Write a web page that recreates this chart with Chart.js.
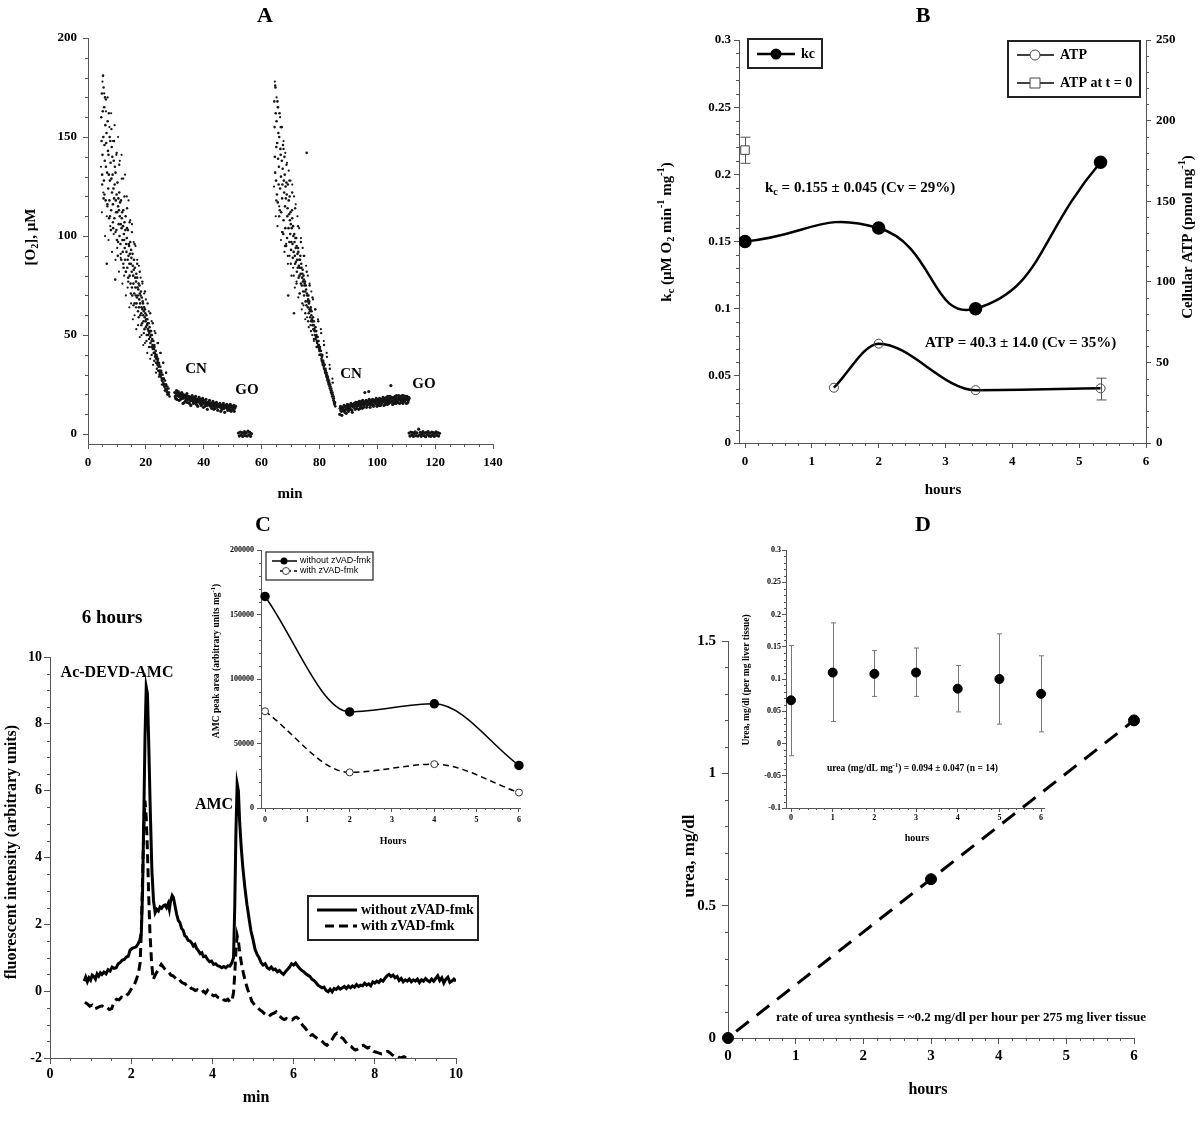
<!DOCTYPE html>
<html>
<head>
<meta charset="utf-8">
<script src="https://cdn.jsdelivr.net/npm/chart.js@4.4.1/dist/chart.umd.min.js"></script>
<style>
  body { margin: 0; background: #fff; }
  #page { position: relative; width: 1200px; height: 1123px; overflow: hidden; }
  canvas { position: absolute; }
</style>
</head>
<body>
<div id="page">
  <canvas id="cA"></canvas>
  <canvas id="cB"></canvas>
  <canvas id="cC"></canvas>
  <canvas id="cD"></canvas>
  <canvas id="cCin"></canvas>
  <canvas id="cDin"></canvas>
</div>
<script>
const SERIF = '"Liberation Serif", "Times New Roman", serif';
const SANS = '"Liberation Sans", Arial, sans-serif';
const AXIS = '#555';

// ---------- A: oxygen trace, [min, µM O2] ----------
const declineA1 = [[4.6,160],[4.8,172],[5.0,141],[5.2,181],[5.3,150],[5.5,128],[5.6,165],[5.8,138],[6.0,156],[6.1,118],[6.3,147],[6.5,86],[6.6,132],[6.8,158],[7.0,124],[7.1,141],[7.3,109],[7.5,150],[7.6,128],[7.8,137],[8.0,113],[8.2,145],[8.3,122],[8.5,131],[8.7,104],[8.9,138],[9.0,119],[9.2,126],[9.4,78],[9.5,132],[9.7,112],[9.9,121],[10.0,98],[10.2,127],[10.4,115],[10.6,106],[10.8,122],[11.0,110],[11.2,96],[11.4,118],[11.6,104],[11.8,112],[12.0,92],[12.2,113],[12.4,101],[12.6,107],[12.8,88],[13.0,110],[13.2,96],[13.4,99],[13.6,84],[13.8,103],[14.0,90],[14.2,95],[14.4,80],[14.6,97],[14.8,86],[15.0,89],[15.2,74],[15.4,91],[15.6,80],[15.8,83],[16.0,71],[16.2,84],[16.4,74],[16.6,77],[16.8,66],[17.0,79],[17.2,70],[17.4,73],[17.6,64],[17.8,75],[18.0,66],[18.2,70],[18.4,61],[18.6,69],[18.8,63],[19.0,66],[19.2,57],[19.4,64],[19.6,59],[19.8,61],[20.0,54],[20.2,60],[20.4,55],[20.6,56],[20.8,50],[21.0,56],[21.2,51],[21.4,52],[21.6,46],[21.8,52],[22.0,47],[22.2,48],[22.4,43],[22.6,47],[22.8,43],[23.0,44],[23.2,39],[23.4,42],[23.6,38],[23.8,39],[24.0,35],[24.2,38],[24.4,34],[24.6,35],[24.8,31],[25.0,34],[25.2,30],[25.4,31],[25.6,27],[25.8,30],[26.0,26],[26.2,28],[26.4,24],[26.6,27],[26.8,23],[27.0,25],[27.2,22],[27.4,24],[27.6,20],[27.8,23],[28.0,21],[28.2,19]];
const declineA1b = [[4.7,148],[4.9,131],[5.1,163],[5.4,119],[5.7,146],[5.9,170],[6.2,135],[6.4,152],[6.7,116],[6.9,143],[7.2,131],[7.4,118],[7.7,148],[7.9,103],[8.1,129],[8.4,140],[8.6,116],[8.8,124],[9.1,109],[9.3,135],[9.6,118],[9.8,103],[10.1,112],[10.3,90],[10.5,119],[10.7,113],[10.9,100],[11.1,117],[11.3,106],[11.5,88],[11.7,109],[11.9,98],[12.1,105],[12.3,84],[12.5,98],[12.7,94],[12.9,103],[13.1,82],[13.3,92],[13.5,104],[13.7,88],[13.9,79],[14.1,96],[14.3,86],[14.5,91],[14.7,76],[14.9,93],[15.1,82],[15.3,70],[15.5,85],[15.7,76],[15.9,88],[16.1,66],[16.3,79],[16.5,70],[16.7,81],[16.9,69],[17.1,74],[17.3,62],[17.5,76],[17.7,68],[17.9,71],[18.1,60],[18.3,72],[18.5,64],[18.7,56],[18.9,67],[19.1,60],[19.3,62],[19.5,53],[19.7,63],[19.9,57],[20.1,58],[20.3,50],[20.5,58],[20.7,53],[20.9,52],[21.1,48],[21.3,54],[21.5,49],[21.7,50],[21.9,44],[22.1,50],[22.3,45],[22.5,44],[22.7,41],[22.9,45],[23.1,41],[23.3,40],[23.5,36],[23.7,40],[23.9,36],[24.1,37],[24.3,32],[24.5,36],[24.7,32],[24.9,32],[25.1,29],[25.3,32],[25.5,28],[25.7,28],[25.9,25],[26.1,28],[26.3,25],[26.5,25],[26.7,22],[26.9,25],[27.1,22],[27.3,21],[27.5,23],[27.7,21],[27.9,20]];
const declineA1c = [[4.9,126],[5.4,175],[5.7,121],[6.2,169],[6.7,115],[7.2,162],[7.6,110],[8.1,154],[8.6,107],[9.0,148],[9.5,102],[9.9,142],[10.4,97],[10.8,136],[11.3,91],[11.7,129],[12.2,86],[12.6,120],[13.1,82],[13.5,114],[13.9,77],[14.4,107],[14.8,71],[15.2,102],[15.7,65],[16.1,96],[16.6,64],[17.0,86],[17.5,59],[17.9,82],[18.4,55],[18.8,77],[19.3,51],[19.7,72],[20.2,47],[20.6,66],[21.1,44],[21.5,61],[22.0,40],[22.4,56],[22.9,37],[23.3,51],[23.8,33],[24.2,46],[24.7,30],[25.1,41],[25.6,27],[26.0,36],[26.5,24],[27.0,31],[27.5,20]];
const declineA1d = [[4.5,135],[4.8,112],[5.0,178],[5.3,122],[5.6,172],[5.9,100],[6.2,163],[6.5,110],[6.8,170],[7.1,98],[7.4,155],[7.7,105],[8.0,162],[8.3,92],[8.6,148],[8.9,101],[9.2,156],[9.5,88],[9.8,141],[10.1,94],[10.4,150],[10.7,82],[11.0,138],[11.3,89],[11.6,141],[11.9,76],[12.2,129],[12.5,80],[12.8,131],[13.1,70],[13.4,120],[13.7,74],[14.0,118],[14.3,64],[14.6,108],[14.9,66],[15.2,106],[15.5,58],[15.8,97],[16.1,60],[16.4,95],[16.7,53],[17.0,88],[17.3,55],[17.6,85],[17.9,49],[18.2,79],[18.5,50],[18.8,76],[19.1,45],[19.4,71],[19.7,46],[20.0,68],[20.5,41],[21.0,62],[21.5,38],[22.0,57],[22.5,35],[23.0,52],[23.5,31],[24.0,46],[24.5,29],[25.0,41],[25.5,25],[26.0,36],[26.5,22],[27.0,31]];
const cnA1 = [[30.0,21],[30.3,18],[30.6,22],[30.9,19.5],[31.2,21.5],[31.5,17],[31.8,20.5],[32.1,19],[32.4,21],[32.7,18],[33.0,20],[33.3,16],[33.6,19.5],[33.9,18],[34.2,20.5],[34.5,17.5],[34.8,19],[35.1,15.5],[35.4,18.5],[35.7,17],[36.0,19.5],[36.3,16.5],[36.6,18],[36.9,17],[37.2,19],[37.5,15],[37.8,17.5],[38.1,16.5],[38.4,18.5],[38.7,15.5],[39.0,17],[39.3,16],[39.6,18],[39.9,13.5],[40.2,16.5],[40.5,15.5],[40.8,17.5],[41.1,14.5],[41.4,16],[41.7,15],[42.0,17],[42.3,14],[42.6,15.5],[42.9,15],[43.2,16.5],[43.5,12.5],[43.8,15],[44.1,14.5],[44.4,16],[44.7,13.5],[45.0,15],[45.3,14],[45.6,15.5],[45.9,11.5],[46.2,14.5],[46.5,13.5],[46.8,15.5],[47.1,13],[47.4,14.5],[47.7,13.5],[48.0,15],[48.3,12],[48.6,14],[48.9,13.5],[49.2,15],[49.5,11.5],[49.8,14],[50.1,13.5],[50.4,14.5],[50.7,13],[51.0,14]];
const cnA1b = [[30.15,19],[30.45,20.5],[30.75,17.5],[31.05,21],[31.35,19],[31.65,20],[31.95,17.5],[32.25,20],[32.55,19.5],[32.85,15.5],[33.15,19],[33.45,18.5],[33.75,17],[34.05,19.5],[34.35,16],[34.65,18.5],[34.95,18],[35.25,17],[35.55,14.5],[35.85,18],[36.15,17.5],[36.45,15.5],[36.75,18.5],[37.05,16],[37.35,17.5],[37.65,16.5],[37.95,14],[38.25,17],[38.55,16.5],[38.85,17.5],[39.15,14.5],[39.45,16.5],[39.75,15.5],[40.05,17],[40.35,14],[40.65,16],[40.95,15.5],[41.25,12.5],[41.55,15.5],[41.85,16],[42.15,14.5],[42.45,15.5],[42.75,13],[43.05,15],[43.35,14],[43.65,15.5],[43.95,13],[44.25,15],[44.55,14.5],[44.85,12],[45.15,14.5],[45.45,15],[45.75,13.5],[46.05,14],[46.35,12.5],[46.65,14.5],[46.95,14],[47.25,11],[47.55,14],[47.85,13.5],[48.15,14.5],[48.45,12.5],[48.75,14],[49.05,12],[49.35,13.5],[49.65,14],[49.95,12.5],[50.25,13.5],[50.55,11.5],[50.85,14]];
const goA1 = [[52.0,0.5],[52.3,-1],[52.6,1],[52.9,-0.5],[53.2,0.8],[53.5,-1.2],[53.8,0.3],[54.1,1.2],[54.4,-0.8],[54.7,0.6],[55.0,-1],[55.3,1.5],[55.6,-0.4],[55.9,0.9],[56.2,-1.1],[56.5,0.2]];
const declineA2 = [[64.4,168],[64.6,140],[64.8,175],[65.0,128],[65.2,158],[65.4,147],[65.6,117],[65.8,152],[66.0,135],[66.2,162],[66.4,124],[66.6,141],[66.8,112],[67.0,138],[67.2,126],[67.4,146],[67.6,108],[67.8,122],[68.0,131],[68.2,104],[68.4,119],[68.6,127],[68.8,99],[69.0,114],[69.2,70],[69.4,118],[69.6,97],[69.8,108],[70.0,112],[70.2,93],[70.4,104],[70.6,109],[70.8,89],[71.0,100],[71.2,61],[71.4,97],[71.6,86],[71.8,94],[72.0,99],[72.2,82],[72.4,91],[72.6,94],[72.8,79],[73.0,88],[73.2,84],[73.4,90],[73.6,76],[73.8,84],[74.0,79],[74.2,83],[74.4,72],[74.6,78],[74.8,75],[75.0,77],[75.2,67],[75.4,73],[75.6,142],[75.8,70],[76.0,64],[76.2,70],[76.4,66],[76.6,63],[76.8,59],[77.0,64],[77.2,60],[77.4,58],[77.6,55],[77.8,59],[78.0,55],[78.2,53],[78.4,50],[78.6,54],[78.8,49],[79.0,50],[79.2,46],[79.4,49],[79.6,45],[79.8,45],[80.0,42],[80.2,44],[80.4,40],[80.6,40],[80.8,37],[81.0,40],[81.2,36],[81.4,36],[81.6,33],[81.8,35],[82.0,31],[82.2,32],[82.4,29],[82.6,30],[82.8,27],[83.0,28],[83.2,25],[83.4,26],[83.6,23],[83.8,24],[84.0,21],[84.2,22],[84.4,19],[84.6,20],[84.8,17],[85.0,18],[85.2,15],[85.4,16]];
const declineA2b = [[64.5,155],[64.7,132],[64.9,162],[65.1,145],[65.3,121],[65.5,168],[65.7,139],[65.9,126],[66.1,150],[66.3,113],[66.5,144],[66.7,130],[66.9,155],[67.1,119],[67.3,134],[67.5,101],[67.7,128],[67.9,140],[68.1,115],[68.3,125],[68.5,95],[68.7,121],[68.9,110],[69.1,126],[69.3,104],[69.5,111],[69.7,120],[69.9,101],[70.1,106],[70.3,97],[70.5,113],[70.7,96],[70.9,105],[71.1,92],[71.3,101],[71.5,90],[71.7,99],[71.9,87],[72.1,95],[72.3,88],[72.5,84],[72.7,92],[72.9,85],[73.1,80],[73.3,88],[73.5,81],[73.7,86],[73.9,75],[74.1,81],[74.3,77],[74.5,80],[74.7,70],[74.9,76],[75.1,72],[75.3,75],[75.5,65],[75.7,71],[75.9,67],[76.1,68],[76.3,61],[76.5,67],[76.7,62],[76.9,63],[77.1,57],[77.3,62],[77.5,57],[77.7,57],[77.9,53],[78.1,57],[78.3,52],[78.5,52],[78.7,48],[78.9,52],[79.1,47],[79.3,47],[79.5,44],[79.7,47],[79.9,43],[80.1,43],[80.3,40],[80.5,42],[80.7,38],[80.9,39],[81.1,37],[81.3,37],[81.5,34],[81.7,35],[81.9,32],[82.1,33],[82.3,30],[82.5,31],[82.7,28],[82.9,29],[83.1,26],[83.3,27],[83.5,24],[83.7,25],[83.9,22],[84.1,23],[84.3,20],[84.5,21],[84.7,18],[84.9,19],[85.1,16],[85.3,15.5],[85.5,14]];
const declineA2c = [[64.7,176],[65.1,118],[65.6,165],[66.1,110],[66.6,155],[67.1,102],[67.6,144],[68.1,95],[68.6,136],[69.1,90],[69.6,128],[70.1,86],[70.6,122],[71.1,80],[71.6,114],[72.1,76],[72.6,105],[73.1,71],[73.6,97],[74.1,66],[74.6,90],[75.1,61],[75.6,82],[76.1,57],[76.6,75],[77.1,52],[77.6,69],[78.1,48],[78.6,63],[79.1,44],[79.6,57],[80.1,40],[80.6,51],[81.1,35],[81.6,45],[82.1,31],[82.6,39],[83.1,26],[83.6,33],[84.1,21],[84.6,26],[85.1,16]];
const declineA2d = [[64.3,125],[64.6,178],[64.9,110],[65.2,170],[65.5,105],[65.8,165],[66.1,115],[66.4,160],[66.7,98],[67.0,155],[67.3,102],[67.6,148],[67.9,92],[68.2,142],[68.5,96],[68.8,137],[69.1,86],[69.4,133],[69.7,90],[70.0,128],[70.3,80],[70.6,126],[70.9,84],[71.2,120],[71.5,74],[71.8,116],[72.1,77],[72.4,110],[72.7,69],[73.0,104],[73.3,71],[73.6,99],[73.9,63],[74.2,94],[74.5,65],[74.8,90],[75.1,58],[75.4,85],[75.7,59],[76.0,80],[76.3,54],[76.6,76],[76.9,55],[77.2,72],[77.5,50],[77.8,68],[78.1,47],[78.5,63],[79.0,44],[79.5,58],[80.0,40],[80.5,53],[81.0,36],[81.5,47],[82.0,32],[82.5,41],[83.0,27],[83.5,35],[84.0,22],[84.5,28],[85.0,17]];
const cnA2 = [[87.0,10],[87.3,14],[87.6,11.5],[87.9,13.5],[88.2,12],[88.5,14.5],[88.8,11],[89.1,13.5],[89.4,12.5],[89.7,15],[90.0,11.5],[90.3,14],[90.6,13],[90.9,15.5],[91.2,12],[91.5,14.5],[91.8,13.5],[92.1,15.5],[92.4,12.5],[92.7,15],[93.0,14],[93.3,16],[93.6,12.5],[93.9,15.5],[94.2,14],[94.5,16.5],[94.8,13],[95.1,15.5],[95.4,14.5],[95.7,21],[96.0,16.5],[96.3,13.5],[96.6,16],[96.9,15],[97.2,17.5],[97.5,13.5],[97.8,16.5],[98.1,15],[98.4,17.5],[98.7,14],[99.0,16.5],[99.3,15.5],[99.6,18],[99.9,14],[100.2,17],[100.5,15.5],[100.8,18],[101.1,14.5],[101.4,17],[101.7,16],[102.0,18.5],[102.3,14.5],[102.6,17.5],[102.9,16],[103.2,18.5],[103.5,15],[103.8,17.5],[104.1,16.5],[104.4,19],[104.7,24.5],[105.0,17.5],[105.3,15],[105.6,18.5],[105.9,16.5],[106.2,19],[106.5,15.5],[106.8,18],[107.1,16.5],[107.4,19.5],[107.7,15.5],[108.0,18],[108.3,17],[108.6,19.5],[108.9,15.5],[109.2,18],[109.5,17],[109.8,19],[110.1,15.5],[110.4,18.5],[110.7,17],[111.0,18]];
const cnA2b = [[87.15,13],[87.45,12],[87.75,9.5],[88.05,13],[88.35,13.5],[88.65,12],[88.95,14],[89.25,10.5],[89.55,14],[89.85,13],[90.15,14.5],[90.45,12.5],[90.75,14],[91.05,14.5],[91.35,11],[91.65,15],[91.95,14],[92.25,14.5],[92.55,16],[92.85,13],[93.15,15],[93.45,14.5],[93.75,16.5],[94.05,13],[94.35,15.5],[94.65,15],[94.95,17],[95.25,13.5],[95.55,16],[95.85,15.5],[96.15,17],[96.45,14.5],[96.75,16.5],[97.05,21.5],[97.35,16],[97.65,15],[97.95,17],[98.25,16],[98.55,14.5],[98.85,17],[99.15,16],[99.45,17],[99.75,15],[100.05,16.5],[100.35,17.5],[100.65,14.5],[100.95,16.5],[101.25,17.5],[101.55,15.5],[101.85,17],[102.15,16.5],[102.45,18],[102.75,15],[103.05,17],[103.35,16.5],[103.65,19],[103.95,15.5],[104.25,17.5],[104.55,16],[104.85,18.5],[105.15,16.5],[105.45,17],[105.75,15.5],[106.05,18],[106.35,17],[106.65,19.5],[106.95,16],[107.25,18],[107.55,17.5],[107.85,19],[108.15,16],[108.45,18],[108.75,17],[109.05,19.5],[109.35,16.5],[109.65,18],[109.95,17.5],[110.25,19],[110.55,16],[110.85,18.5]];
const goA2 = [[111.0,0.5],[111.3,-1],[111.6,1],[111.9,-0.5],[112.2,0.8],[112.5,-1.2],[112.8,0.3],[113.1,1.1],[113.4,-0.8],[113.7,0.6],[114.0,-1],[114.3,2.5],[114.6,-0.4],[114.9,0.9],[115.2,-1.1],[115.5,0.2],[115.8,1.3],[116.1,-0.7],[116.4,0.5],[116.7,-1.3],[117.0,0.9],[117.3,-0.2],[117.6,1.2],[117.9,-0.9],[118.2,0.4],[118.5,-1.1],[118.8,1.0],[119.1,-0.5],[119.4,0.7],[119.7,-1.2],[120.0,0.3],[120.3,1.1],[120.6,-0.6],[120.9,0.8],[121.2,-1.0],[121.5,0.4]];
const ticksAx = [0, 20, 40, 60, 80, 100, 120, 140];
const ticksAy = [0, 50, 100, 150, 200];

// ---------- B: kc and ATP vs hours ----------
const hoursKc = [0, 2, 3.45, 5.32];
const kc = [0.150, 0.160, 0.100, 0.209];
const hoursAtp = [1.33, 2, 3.45, 5.32];
const atp = [34.3, 61.6, 32.8, 33.9];
const atpLo = [null, null, null, 26.7];
const atpHi = [null, null, null, 40.2];
const hoursAtp0 = [0];
const atp0 = [181.7];
const atp0Lo = [173.5];
const atp0Hi = [189.7];
const ticksBx = [0, 1, 2, 3, 4, 5, 6];
const ticksBy = [0, 0.05, 0.1, 0.15, 0.2, 0.25, 0.3];
const ticksBy2 = [0, 50, 100, 150, 200, 250];

// ---------- C: chromatograms at 6 hours [min, intensity] ----------
const chromWithout = [[0.84,0.30],[0.88,0.42],[0.92,0.28],[0.96,0.40],[1.00,0.33],[1.04,0.48],[1.08,0.44],[1.12,0.36],[1.16,0.52],[1.20,0.45],[1.24,0.55],[1.28,0.50],[1.33,0.57],[1.38,0.52],[1.43,0.64],[1.48,0.60],[1.53,0.72],[1.58,0.68],[1.63,0.70],[1.68,0.82],[1.73,0.86],[1.78,0.93],[1.83,0.95],[1.88,1.02],[1.93,1.05],[1.97,1.22],[2.02,1.28],[2.07,1.30],[2.12,1.33],[2.17,1.42],[2.21,1.52],[2.25,1.75],[2.28,3.0],[2.31,5.2],[2.34,7.6],[2.37,9.1],[2.40,8.9],[2.43,7.5],[2.47,5.4],[2.51,3.6],[2.55,2.7],[2.59,2.35],[2.63,2.45],[2.67,2.40],[2.71,2.52],[2.75,2.48],[2.79,2.55],[2.83,2.58],[2.87,2.50],[2.91,2.62],[2.94,2.45],[2.97,2.70],[3.01,2.86],[3.04,2.80],[3.08,2.55],[3.12,2.30],[3.16,2.12],[3.20,2.05],[3.24,1.88],[3.28,1.82],[3.32,1.66],[3.36,1.62],[3.40,1.52],[3.45,1.50],[3.49,1.44],[3.53,1.35],[3.57,1.40],[3.61,1.28],[3.65,1.22],[3.70,1.12],[3.74,1.15],[3.78,1.03],[3.83,1.05],[3.88,0.95],[3.93,0.88],[3.98,0.90],[4.03,0.80],[4.08,0.82],[4.13,0.76],[4.18,0.74],[4.23,0.70],[4.28,0.74],[4.33,0.70],[4.38,0.76],[4.43,0.75],[4.48,0.85],[4.52,1.0],[4.55,2.5],[4.58,4.8],[4.61,6.2],[4.64,6.0],[4.67,5.1],[4.71,4.3],[4.75,3.7],[4.80,3.1],[4.85,2.6],[4.90,2.2],[4.95,1.8],[5.00,1.55],[5.05,1.25],[5.10,1.10],[5.15,1.00],[5.20,0.85],[5.25,0.78],[5.30,0.82],[5.35,0.70],[5.40,0.66],[5.45,0.72],[5.50,0.64],[5.55,0.66],[5.60,0.58],[5.65,0.62],[5.70,0.55],[5.75,0.50],[5.80,0.58],[5.85,0.65],[5.90,0.72],[5.95,0.82],[6.00,0.78],[6.05,0.84],[6.10,0.75],[6.15,0.68],[6.20,0.62],[6.25,0.58],[6.30,0.52],[6.35,0.48],[6.40,0.44],[6.45,0.36],[6.50,0.32],[6.55,0.26],[6.60,0.18],[6.65,0.14],[6.70,0.10],[6.75,0.12],[6.80,0.02],[6.85,-0.02],[6.90,0.06],[6.95,-0.02],[7.00,0.08],[7.05,0.05],[7.10,0.12],[7.15,0.06],[7.20,0.10],[7.25,0.14],[7.30,0.08],[7.35,0.15],[7.40,0.10],[7.45,0.16],[7.50,0.12],[7.55,0.20],[7.60,0.14],[7.65,0.18],[7.70,0.16],[7.75,0.24],[7.80,0.18],[7.85,0.22],[7.90,0.16],[7.95,0.28],[8.00,0.24],[8.05,0.30],[8.10,0.26],[8.15,0.34],[8.20,0.30],[8.25,0.38],[8.30,0.46],[8.35,0.50],[8.40,0.44],[8.45,0.48],[8.50,0.40],[8.55,0.44],[8.60,0.32],[8.65,0.38],[8.70,0.28],[8.75,0.34],[8.80,0.30],[8.85,0.36],[8.90,0.28],[8.95,0.34],[9.00,0.30],[9.05,0.36],[9.10,0.26],[9.15,0.34],[9.20,0.30],[9.25,0.38],[9.30,0.32],[9.35,0.28],[9.40,0.36],[9.45,0.30],[9.50,0.38],[9.55,0.46],[9.60,0.32],[9.65,0.40],[9.70,0.24],[9.75,0.36],[9.80,0.42],[9.85,0.26],[9.90,0.30],[9.95,0.36],[10.00,0.30]];
const chromWith = [[0.86,-0.33],[0.92,-0.38],[0.98,-0.45],[1.04,-0.42],[1.10,-0.53],[1.16,-0.50],[1.22,-0.46],[1.28,-0.44],[1.34,-0.50],[1.40,-0.48],[1.46,-0.55],[1.52,-0.52],[1.58,-0.32],[1.64,-0.24],[1.70,-0.26],[1.76,-0.18],[1.82,-0.20],[1.88,-0.12],[1.93,-0.08],[1.98,0.02],[2.03,0.12],[2.08,0.20],[2.13,0.36],[2.18,0.55],[2.22,0.85],[2.25,1.8],[2.28,3.4],[2.31,4.9],[2.34,5.7],[2.37,5.2],[2.40,4.2],[2.43,2.9],[2.46,1.8],[2.50,0.9],[2.54,0.35],[2.58,0.45],[2.62,0.55],[2.66,0.62],[2.70,0.72],[2.74,0.80],[2.78,0.74],[2.83,0.66],[2.88,0.60],[2.93,0.56],[2.98,0.48],[3.03,0.46],[3.08,0.40],[3.13,0.34],[3.18,0.36],[3.23,0.28],[3.28,0.24],[3.33,0.22],[3.38,0.14],[3.43,0.16],[3.48,0.08],[3.53,0.06],[3.58,0.02],[3.63,0.04],[3.68,-0.02],[3.73,-0.04],[3.78,0.00],[3.83,-0.06],[3.88,0.02],[3.93,-0.08],[3.98,-0.10],[4.03,-0.14],[4.08,-0.12],[4.13,-0.18],[4.18,-0.20],[4.23,-0.18],[4.28,-0.26],[4.33,-0.28],[4.38,-0.24],[4.43,-0.32],[4.48,-0.30],[4.52,-0.05],[4.55,0.5],[4.58,1.2],[4.61,1.66],[4.64,1.5],[4.68,1.1],[4.72,0.8],[4.77,0.5],[4.82,0.25],[4.87,0.05],[4.92,-0.12],[4.97,-0.30],[5.02,-0.38],[5.07,-0.46],[5.12,-0.50],[5.17,-0.56],[5.22,-0.60],[5.27,-0.66],[5.32,-0.70],[5.37,-0.66],[5.42,-0.72],[5.47,-0.68],[5.52,-0.66],[5.57,-0.62],[5.62,-0.70],[5.67,-0.76],[5.72,-0.82],[5.77,-0.85],[5.82,-0.82],[5.87,-0.86],[5.92,-0.84],[5.97,-0.86],[6.02,-0.80],[6.07,-0.78],[6.12,-0.82],[6.17,-0.92],[6.22,-1.02],[6.27,-1.08],[6.32,-1.16],[6.37,-1.24],[6.42,-1.32],[6.47,-1.30],[6.52,-1.36],[6.57,-1.40],[6.62,-1.44],[6.67,-1.46],[6.72,-1.52],[6.77,-1.58],[6.82,-1.62],[6.87,-1.56],[6.92,-1.50],[6.97,-1.40],[7.02,-1.30],[7.07,-1.26],[7.12,-1.32],[7.17,-1.38],[7.22,-1.42],[7.27,-1.50],[7.32,-1.58],[7.37,-1.64],[7.42,-1.66],[7.47,-1.72],[7.52,-1.76],[7.57,-1.74],[7.62,-1.70],[7.67,-1.64],[7.72,-1.62],[7.77,-1.66],[7.82,-1.70],[7.87,-1.68],[7.92,-1.74],[7.97,-1.80],[8.02,-1.82],[8.07,-1.84],[8.12,-1.86],[8.17,-1.88],[8.22,-1.86],[8.27,-1.82],[8.32,-1.80],[8.37,-1.84],[8.42,-1.90],[8.47,-1.94],[8.52,-1.92],[8.57,-1.96],[8.62,-2.00],[8.67,-1.98],[8.72,-1.96],[8.77,-2.00],[8.82,-1.98],[8.87,-2.02],[8.92,-2.05]];
const ticksCx = [0, 2, 4, 6, 8, 10];
const ticksCy = [-2, 0, 2, 4, 6, 8, 10];

// C inset: AMC peak area vs hours
const hoursAmc = [0, 2, 4, 6];
const amcWithout = [164000, 74500, 80800, 33000];
const amcWith = [75000, 27600, 34000, 12000];
const ticksCinX = [0, 1, 2, 3, 4, 5, 6];
const ticksCinY = [0, 50000, 100000, 150000, 200000];

// ---------- D: urea vs hours ----------
const hoursUrea = [0, 3, 6];
const urea = [0, 0.60, 1.20];
const fitHours = [0.12, 5.95];
const fitUrea = [0.025, 1.19];
const ticksDx = [0, 1, 2, 3, 4, 5, 6];
const ticksDy = [0, 0.5, 1, 1.5];

// D inset: urea per mg tissue
const hoursUreaMg = [0, 1, 2, 3, 4, 5, 6];
const ureaMg = [0.067, 0.110, 0.108, 0.110, 0.085, 0.100, 0.077];
const ureaMgLo = [-0.019, 0.034, 0.073, 0.073, 0.049, 0.030, 0.018];
const ureaMgHi = [0.152, 0.187, 0.144, 0.148, 0.121, 0.170, 0.136];
const ticksDinX = [0, 1, 2, 3, 4, 5, 6];
const ticksDinY = [-0.1, -0.05, 0, 0.05, 0.1, 0.15, 0.2, 0.25, 0.3];

// ---------- helpers ----------
const pts = a => a.map(p => ({ x: p[0], y: p[1] }));
const zip = (xs, ys) => xs.map((x, i) => ({ x: x, y: ys[i] }));
const ROT = -Math.PI / 2;

function parseRuns(s) {
  const out = [], re = /([_^])\{([^}]*)\}/g;
  let last = 0, m;
  while ((m = re.exec(s))) {
    if (m.index > last) out.push([s.slice(last, m.index), 0]);
    out.push([m[2], m[1] === '_' ? 1 : 2]);
    last = re.lastIndex;
  }
  if (last < s.length) out.push([s.slice(last), 0]);
  return out;
}

function drawRich(ctx, t, x, y) {
  const size = t.size, fam = t.family || SERIF, wt = t.weight || 'bold';
  const font = k => wt + ' ' + (k ? size * 0.68 : size) + 'px ' + fam;
  const parts = parseRuns(t.s);
  let w = 0;
  parts.forEach(p => { ctx.font = font(p[1]); p.w = ctx.measureText(p[0]).width; w += p.w; });
  ctx.save();
  ctx.translate(x, y);
  if (t.rot) ctx.rotate(t.rot);
  let cx = t.align === 'left' ? 0 : t.align === 'right' ? -w : -w / 2;
  ctx.textAlign = 'left';
  ctx.textBaseline = 'middle';
  ctx.fillStyle = '#000';
  parts.forEach(p => {
    ctx.font = font(p[1]);
    const dy = p[1] === 1 ? size * 0.32 : p[1] === 2 ? -size * 0.36 : 0;
    ctx.fillText(p[0], cx, dy);
    cx += p.w;
  });
  ctx.restore();
}

function marker(ctx, kind, x, y, r) {
  ctx.setLineDash([]);
  ctx.beginPath();
  if (kind === 'dot') {
    ctx.arc(x, y, r, 0, 2 * Math.PI); ctx.fillStyle = '#000'; ctx.fill();
  } else if (kind === 'ring') {
    ctx.arc(x, y, r, 0, 2 * Math.PI); ctx.fillStyle = '#fff'; ctx.fill();
    ctx.strokeStyle = '#444'; ctx.lineWidth = 1; ctx.stroke();
  } else if (kind === 'square') {
    ctx.rect(x - r, y - r, 2 * r, 2 * r); ctx.fillStyle = '#fff'; ctx.fill();
    ctx.strokeStyle = '#444'; ctx.lineWidth = 1; ctx.stroke();
  }
}

// draws error bars, minor ticks, legends and text for one chart
function decor(box, o) {
  return {
    id: 'decor',
    beforeDatasetsDraw(chart) {
      const ctx = chart.ctx;
      (o.errors || []).forEach(e => {
        const xs = chart.scales.x, ys = chart.scales[e.axis || 'y'];
        ctx.save();
        ctx.strokeStyle = e.color; ctx.lineWidth = 1;
        ctx.beginPath();
        e.xs.forEach((xv, i) => {
          if (e.lo[i] == null) return;
          const x = Math.round(xs.getPixelForValue(xv)) + 0.5;
          const y1 = ys.getPixelForValue(e.lo[i]), y2 = ys.getPixelForValue(e.hi[i]);
          ctx.moveTo(x, y1); ctx.lineTo(x, y2);
          ctx.moveTo(x - e.cap, y1); ctx.lineTo(x + e.cap, y1);
          ctx.moveTo(x - e.cap, y2); ctx.lineTo(x + e.cap, y2);
        });
        ctx.stroke();
        ctx.restore();
      });
    },
    afterDraw(chart) {
      const ctx = chart.ctx;
      (o.minor || []).forEach(m => {
        const s = chart.scales[m.id], majors = o.axes[m.id].ticks;
        ctx.save();
        ctx.strokeStyle = AXIS; ctx.lineWidth = 1;
        ctx.beginPath();
        for (let k = Math.ceil(s.min / m.step - 1e-6); k * m.step <= s.max + 1e-9; k++) {
          const v = k * m.step;
          if (majors.some(t => Math.abs(t - v) < m.step * 1e-3)) continue;
          const p = Math.round(s.getPixelForValue(v)) + 0.5;
          if (s.position === 'left') { ctx.moveTo(s.right, p); ctx.lineTo(s.right - m.len, p); }
          else if (s.position === 'right') { ctx.moveTo(s.left, p); ctx.lineTo(s.left + m.len, p); }
          else { ctx.moveTo(p, s.top); ctx.lineTo(p, s.top + m.len); }
        }
        ctx.stroke();
        ctx.restore();
      });
      (o.legends || []).forEach(L => {
        ctx.save();
        ctx.strokeStyle = '#222'; ctx.lineWidth = L.lw || 1.5;
        ctx.strokeRect(L.box[0] - box.x, L.box[1] - box.y, L.box[2], L.box[3]);
        L.items.forEach(it => {
          const y = it.y - box.y;
          ctx.beginPath();
          ctx.setLineDash(it.dash || []);
          ctx.strokeStyle = '#000'; ctx.lineWidth = it.lw;
          ctx.moveTo(it.x1 - box.x, y); ctx.lineTo(it.x2 - box.x, y);
          ctx.stroke();
          if (it.marker) marker(ctx, it.marker, it.mx - box.x, y, it.r);
          drawRich(ctx, { s: it.text, size: it.size, align: 'left', family: it.family, weight: it.weight }, it.tx - box.x, y);
        });
        ctx.restore();
      });
      (o.texts || []).forEach(t => drawRich(ctx, t, t.x - box.x, t.y - box.y));
    }
  };
}

function axis(a, size) {
  const vertical = a.pos === 'left' || a.pos === 'right';
  return {
    type: 'linear', position: a.pos, min: a.min, max: a.max, bounds: 'data',
    afterBuildTicks: s => { s.ticks = a.ticks.map(v => ({ value: v })); },
    afterFit: s => { if (vertical) s.width = size; else s.height = size; },
    ticks: {
      autoSkip: false, maxRotation: 0, padding: a.pad, color: '#000',
      font: { family: SERIF, weight: 'bold', size: a.font },
      callback: v => String(v)
    },
    grid: { drawOnChartArea: false, tickLength: a.tick, color: AXIS, lineWidth: 1 },
    border: { color: AXIS, width: 1 }
  };
}

function makeChart(id, box, area, o) {
  const cv = document.getElementById(id);
  cv.width = box.w; cv.height = box.h;
  cv.style.left = box.x + 'px'; cv.style.top = box.y + 'px';
  const scales = {};
  let hasRight = false;
  Object.keys(o.axes).forEach(k => {
    const a = o.axes[k];
    let size;
    if (a.pos === 'left') size = area.l - box.x;
    else if (a.pos === 'right') { size = box.x + box.w - area.r; hasRight = true; }
    else size = box.y + box.h - area.b;
    scales[k] = axis(a, size);
  });
  return new Chart(cv, {
    type: 'line',
    data: { datasets: o.datasets },
    options: {
      responsive: false, animation: false, events: [],
      layout: { autoPadding: false, padding: { left: 0, bottom: 0, top: area.t - box.y, right: hasRight ? 0 : box.x + box.w - area.r } },
      scales: scales,
      plugins: { legend: { display: false }, tooltip: { enabled: false } }
    },
    plugins: [decor(box, o)]
  });
}

const dots = (arr, r) => ({
  data: pts(arr), showLine: false, pointRadius: r, pointBackgroundColor: '#151515',
  pointBorderWidth: 0, pointBorderColor: 'rgba(0,0,0,0)', borderWidth: 0
});

// ---------- Panel A ----------
makeChart('cA', { x: 0, y: 0, w: 600, h: 510 }, { l: 88, r: 493, t: 38, b: 444 }, {
  axes: {
    x: { pos: 'bottom', min: 0, max: 140, ticks: ticksAx, font: 13, pad: 6, tick: 5 },
    y: { pos: 'left', min: -5, max: 200, ticks: ticksAy, font: 13, pad: 6, tick: 5 }
  },
  minor: [{ id: 'x', step: 5, len: 3 }, { id: 'y', step: 10, len: 3 }],
  datasets: [
    dots(declineA1, 1.3), dots(declineA1b, 1.3), dots(declineA1c, 1.2), dots(declineA1d, 1.1),
    dots(cnA1, 1.6), dots(cnA1b, 1.6), dots(goA1, 1.6),
    dots(declineA2, 1.3), dots(declineA2b, 1.3), dots(declineA2c, 1.2), dots(declineA2d, 1.1),
    dots(cnA2, 1.6), dots(cnA2b, 1.6), dots(goA2, 1.6)
  ],
  texts: [
    { s: 'A', x: 265, y: 16, size: 22 },
    { s: '[O_{2}], µM', x: 31, y: 237, size: 15, rot: ROT },
    { s: 'min', x: 290, y: 494, size: 15 },
    { s: 'CN', x: 196, y: 369, size: 15 },
    { s: 'GO', x: 247, y: 390, size: 15 },
    { s: 'CN', x: 351, y: 374, size: 15 },
    { s: 'GO', x: 424, y: 384, size: 15 }
  ]
});

// ---------- Panel B ----------
makeChart('cB', { x: 600, y: 0, w: 600, h: 510 }, { l: 739, r: 1146, t: 40, b: 443 }, {
  axes: {
    x: { pos: 'bottom', min: -0.09, max: 6, ticks: ticksBx, font: 13, pad: 6, tick: 5 },
    y: { pos: 'left', min: 0, max: 0.3, ticks: ticksBy, font: 13, pad: 3, tick: 5 },
    y2: { pos: 'right', min: 0, max: 250, ticks: ticksBy2, font: 13, pad: 5, tick: 5 }
  },
  minor: [{ id: 'x', step: 0.2, len: 3 }, { id: 'y', step: 0.01, len: 3 }, { id: 'y2', step: 10, len: 3 }],
  datasets: [
    { data: zip(hoursKc, kc), yAxisID: 'y', borderColor: '#000', borderWidth: 2.5, tension: 0.5,
      pointRadius: 5.5, pointBackgroundColor: '#000', pointBorderColor: '#000' },
    { data: zip(hoursAtp, atp), yAxisID: 'y2', borderColor: '#000', borderWidth: 2.5, cubicInterpolationMode: 'monotone',
      pointRadius: 4.5, pointBackgroundColor: 'rgba(255,255,255,0)', pointBorderColor: '#444', pointBorderWidth: 1 },
    { data: zip(hoursAtp0, atp0), yAxisID: 'y2', showLine: false, pointStyle: 'rect', pointRadius: 6,
      pointBackgroundColor: '#fff', pointBorderColor: '#444', pointBorderWidth: 1, clip: false }
  ],
  errors: [
    { xs: hoursAtp, lo: atpLo, hi: atpHi, axis: 'y2', cap: 5, color: '#555' },
    { xs: hoursAtp0, lo: atp0Lo, hi: atp0Hi, axis: 'y2', cap: 5, color: '#555' }
  ],
  legends: [
    { box: [748, 39, 74, 29], lw: 2, items: [
      { y: 54, x1: 757, x2: 795, lw: 2.5, marker: 'dot', mx: 776, r: 5.5, text: 'kc', tx: 801, size: 14 } ] },
    { box: [1008, 41, 132, 56], lw: 2, items: [
      { y: 55, x1: 1017, x2: 1054, lw: 1.5, marker: 'ring', mx: 1035, r: 5, text: 'ATP', tx: 1060, size: 14 },
      { y: 83, x1: 1017, x2: 1054, lw: 1.5, marker: 'square', mx: 1035, r: 5, text: 'ATP at t = 0', tx: 1060, size: 14 } ] }
  ],
  texts: [
    { s: 'B', x: 923, y: 16, size: 22 },
    { s: 'hours', x: 943, y: 490, size: 15 },
    { s: 'k_{c} (µM O_{2} min^{-1} mg^{-1})', x: 667, y: 232, size: 15, rot: ROT },
    { s: 'Cellular ATP (pmol mg^{-1})', x: 1188, y: 237, size: 15, rot: ROT },
    { s: 'k_{c} = 0.155 ± 0.045 (Cv = 29%)', x: 765, y: 188, size: 15, align: 'left' },
    { s: 'ATP = 40.3 ± 14.0 (Cv = 35%)', x: 925, y: 343, size: 15, align: 'left' }
  ]
});

// ---------- Panel C ----------
makeChart('cC', { x: 0, y: 510, w: 600, h: 613 }, { l: 50, r: 456, t: 657, b: 1058 }, {
  axes: {
    x: { pos: 'bottom', min: 0, max: 10, ticks: ticksCx, font: 14, pad: 2, tick: 6 },
    y: { pos: 'left', min: -2, max: 10, ticks: ticksCy, font: 14, pad: 2, tick: 6 }
  },
  minor: [{ id: 'x', step: 0.5, len: 3 }, { id: 'y', step: 0.5, len: 3 }],
  datasets: [
    { data: pts(chromWithout), borderColor: '#000', borderWidth: 3, pointRadius: 0, tension: 0 },
    { data: pts(chromWith), borderColor: '#000', borderWidth: 3, borderDash: [9, 5], pointRadius: 0, tension: 0 }
  ],
  legends: [
    { box: [308, 896, 170, 44], lw: 2, items: [
      { y: 910, x1: 317, x2: 357, lw: 3, text: 'without zVAD-fmk', tx: 361, size: 14 },
      { y: 926, x1: 325, x2: 357, lw: 3, dash: [9, 5], text: 'with zVAD-fmk', tx: 361, size: 14 } ] }
  ],
  texts: [
    { s: 'C', x: 263, y: 525, size: 22 },
    { s: '6 hours', x: 112, y: 618, size: 19 },
    { s: 'Ac-DEVD-AMC', x: 117, y: 673, size: 16 },
    { s: 'AMC', x: 214, y: 805, size: 16 },
    { s: 'min', x: 256, y: 1098, size: 16 },
    { s: 'fluorescent intensity (arbitrary units)', x: 12, y: 852, size: 16, rot: ROT }
  ]
});

// ---------- Panel D ----------
makeChart('cD', { x: 600, y: 510, w: 600, h: 613 }, { l: 728, r: 1134, t: 641, b: 1038 }, {
  axes: {
    x: { pos: 'bottom', min: 0, max: 6, ticks: ticksDx, font: 15, pad: 3, tick: 6 },
    y: { pos: 'left', min: 0, max: 1.5, ticks: ticksDy, font: 15, pad: 6, tick: 6 }
  },
  minor: [{ id: 'x', step: 0.2, len: 3 }, { id: 'y', step: 0.1, len: 3 }],
  datasets: [
    { data: zip(fitHours, fitUrea), borderColor: '#000', borderWidth: 3, borderDash: [16, 10], pointRadius: 0 },
    { data: zip(hoursUrea, urea), showLine: false, pointRadius: 5.5, pointBackgroundColor: '#000', pointBorderColor: '#000', clip: false }
  ],
  texts: [
    { s: 'D', x: 923, y: 525, size: 22 },
    { s: 'hours', x: 928, y: 1090, size: 16 },
    { s: 'urea, mg/dl', x: 690, y: 856, size: 17, rot: ROT },
    { s: 'rate of urea synthesis = ~0.2 mg/dl per hour per 275 mg liver tissue', x: 776, y: 1018, size: 13, align: 'left' }
  ]
});

// ---------- C inset ----------
makeChart('cCin', { x: 180, y: 530, w: 360, h: 330 }, { l: 261, r: 520, t: 550, b: 808 }, {
  axes: {
    x: { pos: 'bottom', min: -0.095, max: 6.025, ticks: ticksCinX, font: 8, pad: 3, tick: 4 },
    y: { pos: 'left', min: 0, max: 200000, ticks: ticksCinY, font: 8, pad: 3, tick: 4 }
  },
  minor: [{ id: 'x', step: 0.2, len: 2 }, { id: 'y', step: 10000, len: 2 }],
  datasets: [
    { data: zip(hoursAmc, amcWithout), borderColor: '#000', borderWidth: 1.5, cubicInterpolationMode: 'monotone',
      pointRadius: 4, pointBackgroundColor: '#000', pointBorderColor: '#000', clip: false },
    { data: zip(hoursAmc, amcWith), borderColor: '#000', borderWidth: 1.5, borderDash: [6, 4], cubicInterpolationMode: 'monotone',
      pointRadius: 3.5, pointBackgroundColor: '#fff', pointBorderColor: '#333', pointBorderWidth: 1, clip: false }
  ],
  legends: [
    { box: [266, 552, 107, 28], lw: 1.2, items: [
      { y: 561, x1: 272, x2: 297, lw: 1.5, marker: 'dot', mx: 284, r: 3.5, text: 'without zVAD-fmk', tx: 300, size: 9, family: SANS, weight: 'normal' },
      { y: 571, x1: 280, x2: 297, lw: 1.5, dash: [4, 3], marker: 'ring', mx: 286, r: 3.5, text: 'with zVAD-fmk', tx: 300, size: 9, family: SANS, weight: 'normal' } ] }
  ],
  texts: [
    { s: 'Hours', x: 393, y: 841, size: 10 },
    { s: 'AMC peak area (arbitrary units mg^{-1})', x: 217, y: 661, size: 9.5, rot: ROT }
  ]
});

// ---------- D inset ----------
makeChart('cDin', { x: 720, y: 530, w: 350, h: 320 }, { l: 786, r: 1044, t: 550, b: 808 }, {
  axes: {
    x: { pos: 'bottom', min: -0.12, max: 6.07, ticks: ticksDinX, font: 8, pad: 1, tick: 4 },
    y: { pos: 'left', min: -0.1, max: 0.3, ticks: ticksDinY, font: 8, pad: 1, tick: 4 }
  },
  minor: [{ id: 'x', step: 0.2, len: 2 }, { id: 'y', step: 0.01, len: 2 }],
  datasets: [
    { data: zip(hoursUreaMg, ureaMg), showLine: false, pointRadius: 4.5, pointBackgroundColor: '#000', pointBorderColor: '#000', clip: false }
  ],
  errors: [{ xs: hoursUreaMg, lo: ureaMgLo, hi: ureaMgHi, cap: 2.5, color: '#777' }],
  texts: [
    { s: 'hours', x: 917, y: 838, size: 10 },
    { s: 'Urea, mg/dl (per mg liver tissue)', x: 747, y: 680, size: 9.5, rot: ROT },
    { s: 'urea (mg/dL mg^{-1}) = 0.094 ± 0.047 (n = 14)', x: 827, y: 769, size: 9.5, align: 'left' }
  ]
});
</script>
</body>
</html>
